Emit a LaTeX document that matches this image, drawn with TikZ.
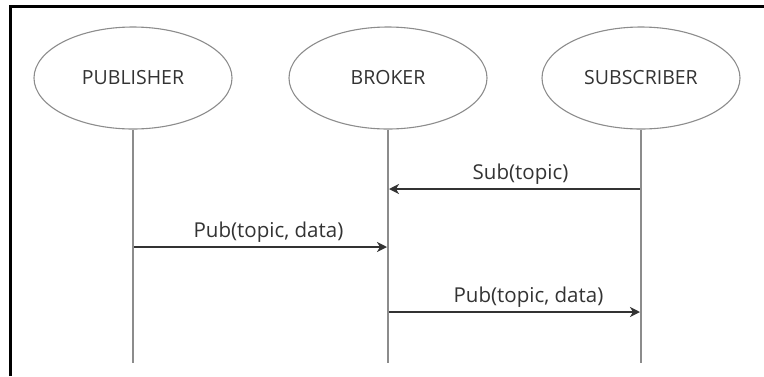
\documentclass[tikz,border=0pt]{standalone}
\usepackage{fontspec}
\setmainfont{Open Sans}
\usetikzlibrary{shapes.geometric,arrows.meta}
\definecolor{inkgray}{HTML}{333333}
\definecolor{linegray}{HTML}{8C8C8C}
\tikzset{
  actor/.style={ellipse, draw=linegray, line width=1.1pt, minimum width=198pt,
    minimum height=102pt, inner sep=0pt, text=inkgray,
    font=\fontsize{19.5}{23}\selectfont},
  lifeline/.style={draw=linegray, line width=1.4pt},
  msg/.style={draw=inkgray, line width=2.4pt,
    -{Stealth[length=10pt,width=10pt,inset=3pt]}},
  msglabel/.style={text=inkgray, font=\fontsize{20.5}{24}\selectfont,
    anchor=south, inner sep=3pt}
}
\begin{document}
\begin{tikzpicture}[x=1pt,y=-1pt]
  \useasboundingbox (0,0) rectangle (764,376);
  % frame: only the top and left edges fall inside the page
  \draw[black, line width=3pt] (10.5,376) -- (10.5,6.5) -- (764,6.5);

  % participants
  \node[actor] (pub) at (133,78) {PUBLISHER};
  \node[actor] (brk) at (388,78) {BROKER};
  \node[actor] (sub) at (641,78) {SUBSCRIBER};

  % lifeline ends
  \coordinate (pubE) at (133,363);
  \coordinate (brkE) at (388,363);
  \coordinate (subE) at (641,363);
  \draw[lifeline] (pub.south) -- (pubE);
  \draw[lifeline] (brk.south) -- (brkE);
  \draw[lifeline] (sub.south) -- (subE);

  % message points on the lifelines
  \coordinate (s1a) at (640,189);
  \coordinate (s1b) at (389,189);
  \coordinate (p1a) at (134,247);
  \coordinate (p1b) at (387,247);
  \coordinate (p2a) at (389,312);
  \coordinate (p2b) at (640,312);

  \draw[msg] (s1a) -- node[msglabel, xshift=6pt] {Sub(topic)} (s1b);
  \draw[msg] (p1a) -- node[msglabel, xshift=8pt] {Pub(topic, data)} (p1b);
  \draw[msg] (p2a) -- node[msglabel, xshift=14pt] {Pub(topic, data)} (p2b);
\end{tikzpicture}
\end{document}
